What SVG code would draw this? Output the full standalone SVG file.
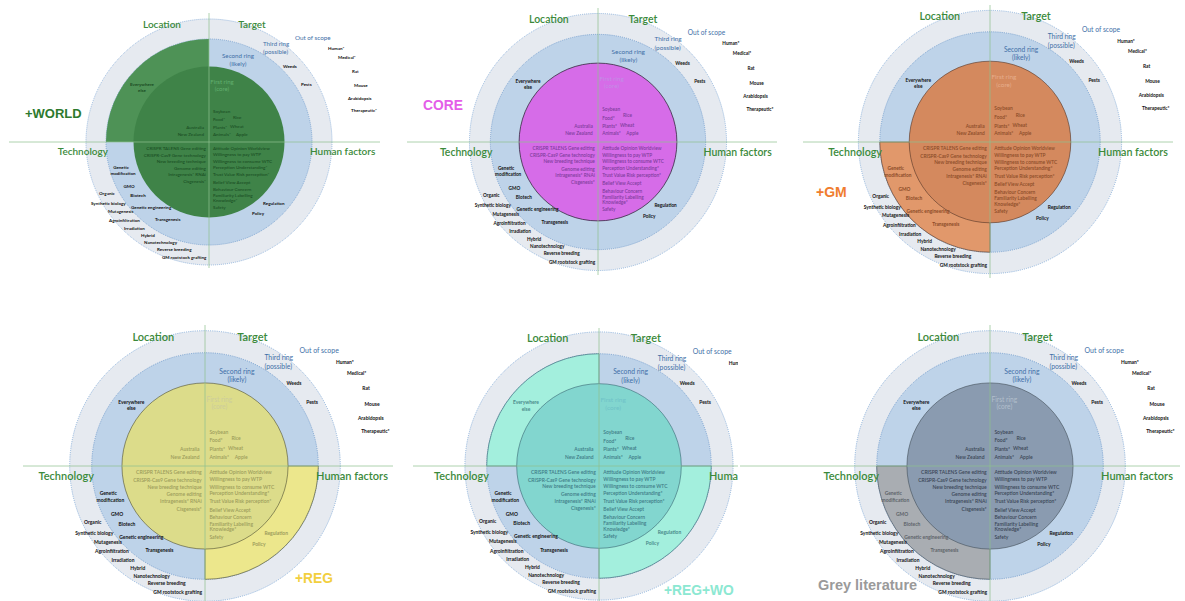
<svg xmlns="http://www.w3.org/2000/svg" xmlns:xlink="http://www.w3.org/1999/xlink" width="1185" height="601" viewBox="0 0 1185 601">
<style>
text{font-family:Lato,"Liberation Sans",sans-serif}
.ax{font-size:10px;font-weight:600}
.bl{font-size:6.3px}
.rl{font-size:6.2px}
.sm{font-size:4.5px;font-weight:bold}
.in{font-size:4.55px;font-weight:600}
.fr{font-size:6px}
.big{font-family:"Liberation Sans",Arial,sans-serif;font-weight:bold}
.axis{stroke:#8fc08f;stroke-width:0.9;fill:none;opacity:0.8}
.e{text-anchor:end}
.m{text-anchor:middle}
</style>
<defs>
<g id="rings">
<circle r="123" fill="#e6eaf0" stroke="#8db1da" stroke-width="0.9" stroke-dasharray="1 1"/>
<circle r="103" fill="#bed3e9" stroke="#6f9bcc" stroke-width="0.8" stroke-dasharray="1 1"/>
</g>
<path id="wTL" d="M0,0 L-103,0 A103,103 0 0 1 0,-103 Z"/>
<path id="wBL" d="M0,0 L0,103 A103,103 0 0 1 -103,0 Z"/>
<path id="wBR" d="M0,0 L103,0 A103,103 0 0 1 0,103 Z"/>
<g id="t-axes" class="ax">
<text x="-47" y="-114" class="m">Location</text>
<text x="43" y="-114" class="m">Target</text>
<text x="-101" y="13" class="e">Technology</text>
<text x="101" y="13">Human factors</text>
</g>
<g id="t-blue">
<text x="86" y="-102.5" class="bl">Out of scope</text>
<text x="54" y="-96.5" class="rl">Third ring</text>
<text x="54" y="-88" class="rl">(possible)</text>
<text x="29" y="-84" class="rl m">Second ring</text>
<text x="29" y="-76.5" class="rl m">(likely)</text>
</g>
<g id="t-black" class="sm">
<text x="74" y="-74">Weeds</text>
<text x="92" y="-56.5">Pests</text>
<text x="119" y="-92.5">Human*</text>
<text x="129" y="-83">Medical*</text>
<text x="143" y="-69">Rat</text>
<text x="145" y="-55">Mouse</text>
<text x="139" y="-42">Arabidopsis</text>
<text x="142" y="-30">Therapeutic*</text>
<text x="-110" y="52.5">Organic</text>
<text x="-118" y="62.5">Synthetic biology</text>
<text x="-101" y="70.5">Mutagenesis</text>
<text x="-100" y="79.5">Agroinfiltration</text>
<text x="-85" y="87.5">Irradiation</text>
<text x="-68" y="94.5">Hybrid</text>
<text x="-65" y="101.5">Nanotechnology</text>
<text x="-52" y="108.5">Reverse breeding</text>
<text x="-47" y="116.5">GM rootstock grafting</text>
</g>
<g id="t-loc" class="sm m">
<text x="-67" y="-56.5">Everywhere</text>
<text x="-67" y="-50.5">else</text>
</g>
<g id="t-tech2" class="sm">
<text x="-88" y="26.5" class="m">Genetic</text>
<text x="-86" y="33" class="m">modification</text>
<text x="-80" y="45.5" class="m">GMO</text>
<text x="-71" y="54.5" class="m">Biotech</text>
<text x="-78" y="66.5">Genetic engineering</text>
<text x="-54" y="78.5">Transgenesis</text>
</g>
<g id="t-hf2" class="sm">
<text x="54" y="62.5">Regulation</text>
<text x="43" y="72.5">Policy</text>
</g>
<g id="t-first" class="fr m">
<text x="13" y="-58.5">First ring</text>
<text x="13" y="-51.5">(core)</text>
</g>
<g id="t-inner" class="in">
<text x="4" y="-29.5">Soybean</text>
<text x="4" y="-21.5">Food*</text>
<text x="24" y="-23.5">Rice</text>
<text x="4" y="-13.5">Plants*</text>
<text x="21" y="-14.5">Wheat</text>
<text x="4" y="-6.5">Animals*</text>
<text x="27" y="-6.5">Apple</text>
<text x="-5" y="-13.5" class="e">Australia</text>
<text x="-5" y="-6.5" class="e">New Zealand</text>
<text x="-3" y="7.5" class="e">CRISPR TALENS Gene editing</text>
<text x="-3" y="14.5" class="e">CRISPR-Cas9 Gene technology</text>
<text x="-3" y="20.5" class="e">New breeding technique</text>
<text x="-3" y="27.5" class="e">Genome editing</text>
<text x="-3" y="33.5" class="e">Intragenesis* RNAi</text>
<text x="-3" y="40.5" class="e">Cisgenesis*</text>
<text x="4" y="7.5">Attitude Opinion Worldview</text>
<text x="4" y="14">Willingness to pay WTP</text>
<text x="4" y="20.5">Willingness to consume WTC</text>
<text x="4" y="26.5">Perception Understanding*</text>
<text x="4" y="33.5">Trust Value Risk perception*</text>
<text x="4" y="41.5">Belief View Accept</text>
<text x="4" y="48.5">Behaviour Concern</text>
<text x="4" y="54.5">Familiarity Labelling</text>
<text x="4" y="59.5">Knowledge*</text>
<text x="4" y="66.5">Safety</text>
</g>
<clipPath id="clip5"><rect x="400" y="300" width="338" height="301"/></clipPath>
</defs>

<g id="panel-world" transform="translate(209,142)">
<use xlink:href="#rings"/>
<use xlink:href="#wTL" fill="#4e9256"/>
<circle r="75.5" fill="#3f8348"/>
<use xlink:href="#t-axes" fill="#3b8a3b"/>
<use xlink:href="#t-blue" fill="#3e6fa7"/>
<use xlink:href="#t-black" fill="#111"/>
<use xlink:href="#t-loc" fill="#1b4d24"/>
<use xlink:href="#t-tech2" fill="#111"/>
<use xlink:href="#t-hf2" fill="#111"/>
<use xlink:href="#t-first" fill="#62b06f"/>
<use xlink:href="#t-inner" fill="#1c5226"/>
</g>
<text id="label-world" class="big" x="25" y="117.5" font-size="13" fill="#2d7a2d">+WORLD</text>

<g id="panel-core" transform="translate(598,142) scale(1.045)">
<use xlink:href="#rings"/>
<circle r="75.5" fill="#d66ce8" stroke="#3d3048" stroke-width="0.8"/>
<use xlink:href="#t-axes" fill="#3b8a3b"/>
<use xlink:href="#t-blue" fill="#3e6fa7"/>
<use xlink:href="#t-black" fill="#111"/>
<use xlink:href="#t-loc" fill="#111"/>
<use xlink:href="#t-tech2" fill="#111"/>
<use xlink:href="#t-hf2" fill="#111"/>
<use xlink:href="#t-first" fill="#c48ce6"/>
<use xlink:href="#t-inner" fill="#7e3d9c"/>
</g>
<text id="label-core" class="big" x="423" y="110" font-size="13.8" fill="#e45ee8">CORE</text>

<g id="panel-gm" transform="translate(990,142) scale(1.07)">
<use xlink:href="#rings"/>
<use xlink:href="#wBL" fill="#e1986b" stroke="#5a3a2a" stroke-width="0.6"/>
<circle r="75.5" fill="#d4895e" stroke="#5a3a2a" stroke-width="0.6"/>
<use xlink:href="#t-axes" fill="#3b8a3b"/>
<use xlink:href="#t-blue" fill="#3e6fa7"/>
<use xlink:href="#t-black" fill="#111"/>
<use xlink:href="#t-loc" fill="#111"/>
<use xlink:href="#t-tech2" fill="#8b4b28"/>
<use xlink:href="#t-hf2" fill="#111"/>
<use xlink:href="#t-first" fill="#e6ad8c"/>
<use xlink:href="#t-inner" fill="#8b4b28"/>
</g>
<text id="label-gm" class="big" x="816" y="197" font-size="14" fill="#f07d2e">+GM</text>

<g id="panel-reg" transform="translate(205,466) scale(1.1)">
<use xlink:href="#rings"/>
<use xlink:href="#wBR" fill="#ece78c" stroke="#5a5a3a" stroke-width="0.6"/>
<circle r="75.5" fill="#dcdc8a" stroke="#5a5a3a" stroke-width="0.6"/>
<use xlink:href="#t-axes" fill="#3b8a3b"/>
<use xlink:href="#t-blue" fill="#3e6fa7"/>
<use xlink:href="#t-black" fill="#111"/>
<use xlink:href="#t-loc" fill="#111"/>
<use xlink:href="#t-tech2" fill="#111"/>
<use xlink:href="#t-hf2" fill="#9c9c5c"/>
<use xlink:href="#t-first" fill="#cccc9c"/>
<use xlink:href="#t-inner" fill="#9c9c5c"/>
</g>
<text id="label-reg" class="big" x="295" y="583" font-size="13.8" fill="#f2cf3f">+REG</text>

<g id="panel-regwo" clip-path="url(#clip5)">
<g transform="translate(599,466) scale(1.09)">
<use xlink:href="#rings"/>
<use xlink:href="#wTL" fill="#a3efdd" stroke="#3f6f7a" stroke-width="0.6"/>
<use xlink:href="#wBR" fill="#a3efdd" stroke="#3f6f7a" stroke-width="0.6"/>
<circle r="75.5" fill="#82d6cf" stroke="#3f6f7a" stroke-width="0.6"/>
<use xlink:href="#t-axes" fill="#3b8a3b"/>
<use xlink:href="#t-blue" fill="#3e6fa7"/>
<use xlink:href="#t-black" fill="#111"/>
<use xlink:href="#t-loc" fill="#4a8a8a"/>
<use xlink:href="#t-tech2" fill="#111"/>
<use xlink:href="#t-hf2" fill="#4a8a8a"/>
<use xlink:href="#t-first" fill="#6fc2c8"/>
<use xlink:href="#t-inner" fill="#3e7b86"/>
</g>
<text id="label-regwo" class="big" x="664" y="595" font-size="13.8" fill="#8ce8d2">+REG+WO</text>
</g>

<g id="panel-grey" transform="translate(990,466) scale(1.1)">
<use xlink:href="#rings"/>
<use xlink:href="#wBL" fill="#a9adb2" stroke="#4a5560" stroke-width="0.6"/>
<circle r="75.5" fill="#8a9bb0" stroke="#4a5560" stroke-width="0.6"/>
<use xlink:href="#t-axes" fill="#3b8a3b"/>
<use xlink:href="#t-blue" fill="#3e6fa7"/>
<use xlink:href="#t-black" fill="#111"/>
<use xlink:href="#t-loc" fill="#111"/>
<use xlink:href="#t-tech2" fill="#5e646a"/>
<use xlink:href="#t-hf2" fill="#111"/>
<use xlink:href="#t-first" fill="#b3bfcc"/>
<use xlink:href="#t-inner" fill="#3a4656"/>
</g>
<text id="label-grey" class="big" x="818" y="590" font-size="14.5" fill="#9a9a9a">Grey literature</text>

<g id="connectors">
<line class="axis" x1="9" y1="142" x2="380" y2="142"/>
<line class="axis" x1="209" y1="13" x2="209" y2="268"/>
<line class="axis" x1="407" y1="142" x2="777" y2="142"/>
<line class="axis" x1="598" y1="8" x2="598" y2="275"/>
<line class="axis" x1="803" y1="142" x2="1173" y2="142"/>
<line class="axis" x1="990" y1="5" x2="990" y2="278"/>
<line class="axis" x1="23" y1="466" x2="393" y2="466"/>
<line class="axis" x1="205" y1="325" x2="205" y2="601"/>
<line class="axis" x1="413" y1="466" x2="800" y2="466" clip-path="url(#clip5)"/>
<line class="axis" x1="599" y1="328" x2="599" y2="601"/>
<line class="axis" x1="740" y1="466" x2="1180" y2="466"/>
<line class="axis" x1="990" y1="325" x2="990" y2="601"/>
</g>
</svg>
